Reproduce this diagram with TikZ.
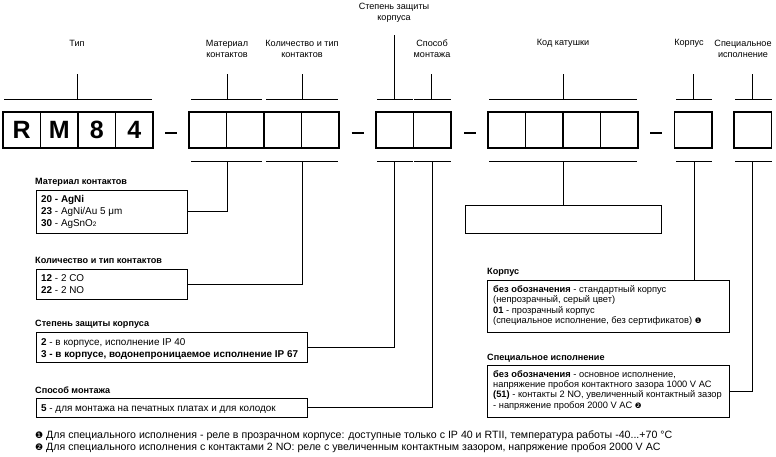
\documentclass[tikz,border=0pt]{standalone}
\usepackage{fontspec}
\setmainfont{Liberation Sans}
\newfontfamily\dv{DejaVu Sans}
\begin{document}
\begin{tikzpicture}[x=1pt,y=-1pt,
  cell/.style={draw,line width=1.5pt,minimum width=37.5pt,minimum height=36pt,inner sep=0pt,font=\fontsize{25}{25}\selectfont\bfseries},
  dashmark/.style={line width=1.6pt},
  brk/.style={line width=0.8pt},
  conn/.style={line width=0.8pt},
  lab/.style={font=\fontsize{9.1}{11}\selectfont,align=center,inner sep=0pt},
  ttl/.style={font=\fontsize{9.1}{10}\selectfont\bfseries,anchor=west,inner sep=0pt},
  dbox/.style={draw,line width=0.8pt,inner sep=0pt},
  dtxt/.style={font=\fontsize{9.9}{11.5}\selectfont,anchor=north west,align=left,inner sep=0pt},
  rtxt/.style={font=\fontsize{9.3}{10.2}\selectfont,anchor=north west,align=left,inner sep=0pt},
  foot/.style={font=\fontsize{10.6}{12}\selectfont,anchor=west,inner sep=0pt}]
\useasboundingbox (0,0) rectangle (776,456);
% cells
\foreach \n/\x/\t in {c1/21.75/R,c2/59.25/M,c3/96.75/8,c4/134.25/4,
  c5/207.75/,c6/245.25/,c7/282.75/,c8/320.25/,
  c9/394.75/,c10/432.25/,
  c11/506.75/,c12/544.25/,c13/581.75/,c14/619.25/,
  c15/693/,c16/752.5/}
  \node[cell] (\n) at (\x,130) {\t};
% dashes
\foreach \x in {171,357.5,470,656} \draw[dashmark] (\x-6,133) -- (\x+6,133);
% upper brackets
\foreach \a/\b/\m/\h in {4/152/77/74,191/262/227/74,266/338/302/74,377/413/394/35,414/451/431/74,489/637/563/74,676/712/693/74,735/772/752/74}
  \draw[brk] (\a,99) -- (\b,99) (\m,99) -- (\m,\h);
% lower brackets
\foreach \a/\b in {191/262,266/338,377/413,414/451,489/637,676/712,735/772}
  \draw[brk] (\a,161) -- (\b,161);
% top labels
\node[lab] (l1) at (77,43) {Тип};
\node[lab] (l2) at (227,48.5) {Материал\\контактов};
\node[lab] (l3) at (302,48.5) {Количество и тип\\контактов};
\node[lab] (l4) at (394,13) {Степень защиты\\корпуса};
\node[lab] (l5) at (432,48.5) {Способ\\монтажа};
\node[lab] (l6) at (563,43) {Код катушки};
\node[lab] (l7) at (689,43) {Корпус};
\node[lab] (l8) at (743,48.5) {Специальное\\исполнение};
% lower coordinates
\coordinate (b2) at (227,161);
\coordinate (b3) at (302,161);
\coordinate (b4) at (394,161);
\coordinate (b5) at (432,161);
\coordinate (b6) at (563,161);
\coordinate (b7) at (694,161);
\coordinate (b8) at (752,161);
% description boxes
\node[dbox,minimum width=151pt,minimum height=43pt] (bA) at (111.5,211.5) {};
\node[ttl] (tA) at (35,182) {Материал контактов};
\node[dtxt,font=\fontsize{9.9}{12}\selectfont] (xA) at (41,195) {\textbf{20 - AgNi}\\\textbf{23} - AgNi/Au 5 μm\\\textbf{30} - AgSnO{\fontsize{6.5}{6.5}\selectfont 2}};
\node[dbox,minimum width=151pt,minimum height=30pt] (bB) at (111.5,284) {};
\node[ttl] (tB) at (35,260) {Количество и тип контактов};
\node[dtxt] (xB) at (41,274.5) {\textbf{12} - 2 CO\\\textbf{22} - 2 NO};
\node[dbox,minimum width=271pt,minimum height=30pt] (bC) at (171.5,347) {};
\node[ttl] (tC) at (35,324) {Степень защиты корпуса};
\node[dtxt] (xC) at (41,338.5) {\textbf{2} - в корпусе, исполнение IP 40\\\textbf{3 - в корпусе, водонепроницаемое исполнение IP 67}};
\node[dbox,minimum width=271pt,minimum height=19pt] (bD) at (171.5,407.5) {};
\node[ttl] (tD) at (35,390) {Способ монтажа};
\node[dtxt] (xD) at (41,404.5) {\textbf{5} - для монтажа на печатных платах и для колодок};
\node[dbox,minimum width=196pt,minimum height=28pt] (bE) at (563,219) {};
\node[dbox,minimum width=242pt,minimum height=52pt] (bF) at (608,306) {};
\node[ttl] (tF) at (487,272) {Корпус};
\node[rtxt] (xF) at (493,285.5) {\textbf{без обозначения} - стандартный корпус\\(непрозрачный, серый цвет)\\\textbf{01} - прозрачный корпус\\(специальное исполнение, без сертификатов) {\dv\fontsize{7.5}{7.5}\selectfont ❶}};
\node[dbox,minimum width=242pt,minimum height=52pt] (bG) at (608,391) {};
\node[ttl] (tG) at (487,358) {Специальное исполнение};
\node[rtxt] (xG) at (493,370.5) {\textbf{без обозначения} - основное исполнение,\\напряжение пробоя контактного зазора 1000 V AC\\\textbf{(51)} - контакты 2 NO, увеличенный контактный зазор\\- напряжение пробоя 2000 V AC {\dv\fontsize{7.5}{7.5}\selectfont ❷}};
% connectors
\draw[conn] (b2) |- (bA.east);
\draw[conn] (b3) |- (bB.east);
\draw[conn] (b4) |- (bC.east);
\draw[conn] (b5) |- (bD.east);
\draw[conn] (b6) -- (bE.north);
\draw[conn] (b7) -- (b7 |- bF.north);
\draw[conn] (b8) |- (bG.east);
% footnotes
\node[foot] (f1) at (35,436) {{\dv\fontsize{9}{9}\selectfont ❶} Для специального исполнения - реле в прозрачном корпусе: доступные только с IP 40 и RTII, температура работы -40...+70 °C};
\node[foot] (f2) at (35,448) {{\dv\fontsize{9}{9}\selectfont ❷} Для специального исполнения с контактами 2 NO: реле с увеличенным контактным зазором, напряжение пробоя 2000 V AC};
\end{tikzpicture}
\end{document}
